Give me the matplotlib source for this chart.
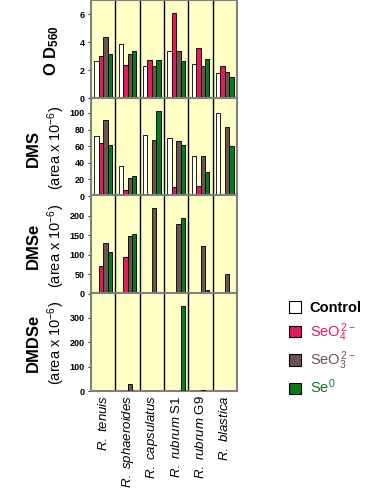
import numpy as np
import matplotlib.pyplot as plt
from matplotlib.patches import Patch

plt.rcParams['font.family'] = ['Liberation Sans', 'DejaVu Sans']
plt.rcParams['mathtext.fontset'] = 'custom'
plt.rcParams['mathtext.rm'] = 'Liberation Sans'
plt.rcParams['mathtext.it'] = 'Liberation Sans:italic'
plt.rcParams['mathtext.bf'] = 'Liberation Sans:bold'

strains = [r"$\it{R.\ tenuis}$", r"$\it{R.\ sphaeroides}$", r"$\it{R.\ capsulatus}$",
           r"$\it{R.\ rubrum}$ S1", r"$\it{R.\ rubrum}$ G9", r"$\it{R.\ blastica}$"]
series = ["Control", r"SeO$_4^{\,2-}$", r"SeO$_3^{\,2-}$", r"Se$^0$"]
colors = ["white", "#e01c5a", "#6b5450", "#0a7a1e"]
text_colors = ["black", "#e01c5a", "#6b5450", "#0a7a1e"]

# rows: Control, SeO4, SeO3, Se0 ; columns: strains
od560 = [[2.7, 3.9, 2.3, 3.4, 2.45, 1.8],
         [3.0, 2.4, 2.75, 6.1, 3.6, 2.3],
         [4.4, 3.2, 2.3, 3.4, 2.3, 1.9],
         [3.2, 3.4, 2.75, 2.65, 2.85, 1.55]]
dms = [[72, 36, 73, 70, 48, 100],
       [64, 7, 3, 11, 12, 3],
       [91, 22, 68, 66, 48, 83],
       [62, 24, 102, 62, 29, 60]]
dmse = [[0, 0, 0, 0, 0, 0],
        [71, 94, 2, 2, 2, 0],
        [130, 148, 221, 179, 122, 51],
        [108, 152, 0, 193, 10, 0]]
dmdse = [[1, 0, 0, 0, 0, 0],
         [0, 0, 0, 1, 0, 0],
         [0, 27, 0, 2, 4, 0],
         [0, 0, 0, 348, 0, 0]]

panels = [od560, dms, dmse, dmdse]
ylims = [7, 118, 252, 402]
yticks = [[0, 2, 4, 6], [0, 20, 40, 60, 80, 100], [0, 50, 100, 150, 200], [0, 100, 200, 300]]
ylabels = [None, "DMS", "DMSe", "DMDSe"]

fig = plt.figure(figsize=(3.87, 4.98), dpi=100)
bg = "#ffffc6"
left, width = 91 / 387, 146 / 387
h = 98 / 498
x = np.arange(len(strains))
bw = 0.18

for p, data in enumerate(panels):
    bottom = 1 - (1 + (p + 1) * 97.5) / 498
    ax = fig.add_axes([left, bottom, width, h])
    ax.set_facecolor(bg)
    for s in range(4):
        pos = x + (s - 1.5) * bw
        ax.bar(pos + 0.04, data[s], bw, color="#8c8c8c", zorder=2)
        ax.bar(pos, data[s], bw, color=colors[s], edgecolor="black", linewidth=0.6, zorder=3)
    for sep in x[:-1] + 0.5:
        ax.axvline(sep, color="black", lw=1.0, zorder=1)
    ax.set_xlim(-0.5, len(strains) - 0.5)
    ax.set_ylim(0, ylims[p])
    ax.set_yticks(yticks[p])
    ax.tick_params(axis="y", labelsize=6.5, length=2.5, width=0.6, pad=2)
    for lab in ax.get_yticklabels():
        lab.set_fontweight("bold")
    ax.set_xticks(x)
    if p == 3:
        ax.set_xticklabels(strains, rotation=90, fontsize=9.5, va="top")
        ax.tick_params(axis="x", length=0, pad=3)
    else:
        ax.set_xticklabels([])
        ax.tick_params(axis="x", length=0)
    for sp in ax.spines.values():
        sp.set_color("#808080")
        sp.set_linewidth(1.5)
    yc = 1 - (1 + (p + 0.5) * 97.5 + 1) / 498
    if p == 0:
        fig.text(52 / 387, yc, r"O D$_{\mathbf{560}}$", rotation=90, ha="center", va="center",
                 fontsize=12, fontweight="bold")
    else:
        fig.text(33 / 387, yc, ylabels[p], rotation=90, ha="center", va="center",
                 fontsize=12, fontweight="bold")
        fig.text(56 / 387, yc, r"(area x 10$^{-6}$)", rotation=90, ha="center", va="center",
                 fontsize=10.5)

handles = [Patch(facecolor=c, edgecolor="black", linewidth=0.8) for c in colors]
leg = fig.legend(handles, series, loc="upper left", bbox_to_anchor=(276 / 387, 1 - 288 / 498),
                 frameon=False, fontsize=10.5, handlelength=0.8, handleheight=0.8,
                 handletextpad=0.6, labelspacing=0.4, labelcolor=text_colors)
leg.get_texts()[0].set_fontweight("bold")

fig.savefig("out.png", dpi=100)
